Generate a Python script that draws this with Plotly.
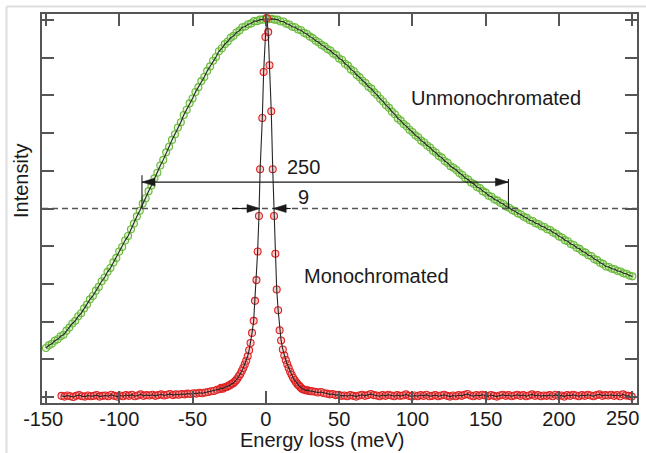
import numpy as np
import plotly.graph_objects as go

# ---- Unmonochromated spectrum (2 meV sampling) ----
green_energy = np.arange(-150.0, 251.0, 2.0)
green_intensity = [
    1.30, 1.37, 1.41, 1.49, 1.53, 1.61, 1.65, 1.76, 1.84, 1.95,
    2.02, 2.14, 2.22, 2.35, 2.45, 2.59, 2.68, 2.82, 2.92, 3.07,
    3.17, 3.32, 3.42, 3.57, 3.69, 3.86, 3.98, 4.15, 4.27, 4.45,
    4.60, 4.79, 4.94, 5.13, 5.27, 5.46, 5.61, 5.80, 5.95, 6.14,
    6.29, 6.49, 6.64, 6.82, 6.97, 7.15, 7.29, 7.48, 7.62, 7.79,
    7.92, 8.09, 8.22, 8.38, 8.49, 8.65, 8.77, 8.92, 9.02, 9.17,
    9.25, 9.36, 9.43, 9.53, 9.58, 9.67, 9.72, 9.81, 9.83, 9.89,
    9.91, 9.97, 9.97, 10.01, 10.01, 10.04, 10.02, 10.03, 10.01, 10.01,
    9.96, 9.96, 9.90, 9.88, 9.82, 9.81, 9.75, 9.73, 9.66, 9.63,
    9.56, 9.52, 9.45, 9.41, 9.34, 9.30, 9.23, 9.19, 9.11, 9.07,
    8.98, 8.94, 8.84, 8.79, 8.69, 8.64, 8.54, 8.48, 8.39, 8.33,
    8.23, 8.18, 8.08, 8.01, 7.91, 7.84, 7.74, 7.67, 7.57, 7.50,
    7.39, 7.33, 7.24, 7.18, 7.09, 7.03, 6.94, 6.89, 6.80, 6.75,
    6.67, 6.62, 6.53, 6.48, 6.39, 6.35, 6.26, 6.21, 6.12, 6.08,
    6.02, 5.94, 5.89, 5.81, 5.77, 5.69, 5.65, 5.57, 5.54, 5.46,
    5.42, 5.34, 5.31, 5.24, 5.21, 5.15, 5.12, 5.05, 5.02, 4.96,
    4.93, 4.87, 4.84, 4.78, 4.75, 4.69, 4.67, 4.61, 4.59, 4.53,
    4.51, 4.45, 4.43, 4.36, 4.33, 4.26, 4.23, 4.16, 4.13, 4.06,
    4.03, 3.96, 3.93, 3.86, 3.83, 3.76, 3.74, 3.66, 3.63, 3.56,
    3.53, 3.46, 3.45, 3.40, 3.39, 3.34, 3.33, 3.28, 3.27, 3.22,
    3.20,
]

# ---- Monochromated spectrum ----
red_left_energy = np.arange(-139.4, -32.0, 2.0)
red_left_intensity = [
    0.03, 0.01, 0.04, 0.02, 0.00, 0.03, 0.05, 0.02, 0.01, 0.04,
    0.02, 0.03, 0.05, 0.01, 0.03, 0.04, 0.02, 0.06, 0.03, 0.01,
    0.04, 0.02, 0.05, 0.03, 0.06, 0.02, 0.04, 0.07, 0.03, 0.05,
    0.04, 0.06, 0.03, 0.05, 0.07, 0.04, 0.06, 0.08, 0.05, 0.07,
    0.06, 0.08, 0.07, 0.09, 0.08, 0.10, 0.09, 0.11, 0.10, 0.12,
    0.13, 0.15, 0.16, 0.19,
]
red_core_energy = [
    -31.4, -30.4, -29.4, -28.4, -27.4, -26.4, -25.4, -24.4, -23.4, -22.4,
    -21.4, -20.4, -19.4, -18.4, -17.4, -16.4, -15.4, -14.4, -13.4, -12.4,
    -11.4, -10.4, -9.4, -8.3, -7.4, -6.4, -5.6, -4.7, -3.9, -2.4,
    -1.5, -0.3, 0.7, 1.6, 2.5, 3.7, 4.7, 5.6, 6.5, 7.4,
    8.4, 9.4, 10.4, 11.6, 12.6, 13.6, 14.6, 15.6, 16.6, 17.6,
    18.6, 19.6, 20.6, 21.6, 22.6, 23.6, 24.6, 25.6, 26.6, 27.6,
    28.6, 29.6, 30.6, 31.6,
]
red_core_intensity = [
    0.21, 0.24, 0.22, 0.25, 0.26, 0.27, 0.30, 0.31, 0.35, 0.36,
    0.40, 0.44, 0.49, 0.55, 0.61, 0.69, 0.77, 0.86, 0.96, 1.08,
    1.24, 1.43, 1.70, 2.02, 2.55, 3.10, 3.86, 4.80, 6.04, 7.40,
    8.62, 9.55, 10.05, 9.68, 8.80, 7.58, 6.04, 4.80, 3.80, 2.85,
    2.30, 1.77, 1.50, 1.26, 1.10, 0.98, 0.87, 0.77, 0.67, 0.59,
    0.51, 0.45, 0.39, 0.34, 0.30, 0.26, 0.22, 0.20, 0.19, 0.17,
    0.18, 0.16, 0.15, 0.15,
]
red_right_energy = np.arange(33.6, 250.0, 2.0)
red_right_intensity = [
    0.14, 0.12, 0.13, 0.10, 0.09, 0.07, 0.08, 0.05, 0.06, 0.03,
    0.04, 0.02, 0.05, 0.03, 0.01, 0.04, 0.06, 0.03, 0.05, 0.08,
    0.05, 0.04, 0.02, 0.05, 0.03, 0.06, 0.04, 0.02, 0.05, 0.03,
    0.04, 0.07, 0.03, 0.01, 0.04, 0.02, 0.05, 0.03, 0.06, 0.02,
    0.03, 0.05, 0.02, 0.04, 0.06, 0.03, 0.01, 0.04, 0.02, 0.05,
    0.03, 0.06, 0.08, 0.04, 0.02, 0.05, 0.03, 0.06, 0.04, 0.02,
    0.05, 0.03, 0.01, 0.04, 0.06, 0.03, 0.05, 0.02, 0.04, 0.06,
    0.03, 0.05, 0.02, 0.04, 0.07, 0.03, 0.05, 0.02, 0.04, 0.03,
    0.05, 0.02, 0.06, 0.03, 0.04, 0.01, 0.05, 0.03, 0.06, 0.04,
    0.02, 0.05, 0.03, 0.06, 0.04, 0.02, 0.05, 0.07, 0.03, 0.05,
    0.04, 0.06, 0.03, 0.05, 0.02, 0.07, 0.04, 0.03, 0.01,
]

red_energy = np.concatenate([red_left_energy, red_core_energy, red_right_energy])
red_intensity = np.concatenate([red_left_intensity, red_core_intensity, red_right_intensity])

# ---- Width annotations ----
half_max = 5.0
unmono_fwhm = 250
unmono_left = -84.5
unmono_right = unmono_left + unmono_fwhm
mono_fwhm = 9
mono_center = 0.5
mono_left = mono_center - mono_fwhm / 2
mono_right = mono_center + mono_fwhm / 2
arrow_level = 5.7

# the last label sits flush with the frame, so it is placed separately
x_ticks = [-150, -100, -50, 0, 50, 100, 150, 200, 250]
x_tick_labels = ["-150&nbsp;", "-100", "-50", "0", "50", "100", "150", "200", ""]
x_last_tick = 250
x_last_label = "250"

FONT = "Liberation Sans, Arial, sans-serif"
INK = "#1a1a1a"
AXIS = "#555555"

fig = go.Figure()

fig.add_trace(go.Scatter(
    x=green_energy, y=green_intensity, mode="markers",
    marker=dict(symbol="circle", size=7, color="rgba(160,215,120,0.3)",
                line=dict(color="#69b83a", width=1.1)),
    hoverinfo="skip", showlegend=False))
fig.add_trace(go.Scatter(
    x=green_energy, y=green_intensity, mode="lines",
    line=dict(color="#262626", width=1.1), showlegend=False))

fig.add_trace(go.Scatter(
    x=red_energy, y=red_intensity, mode="markers",
    marker=dict(symbol="circle", size=7, color="rgba(240,120,120,0.35)",
                line=dict(color="#dd2222", width=1.1)),
    hoverinfo="skip", showlegend=False))
fig.add_trace(go.Scatter(
    x=red_energy, y=red_intensity, mode="lines",
    line=dict(color="#262626", width=1.1), showlegend=False))

shapes = []
# half-maximum reference line
shapes.append(dict(type="line", xref="paper", x0=0, x1=1, yref="y", y0=half_max, y1=half_max,
                   line=dict(color="#555555", width=1.3, dash="6px,4px")))
# wide arrow (unmonochromated FWHM)
shapes.append(dict(type="line", xref="x", yref="y", x0=unmono_left, x1=unmono_right,
                   y0=arrow_level, y1=arrow_level, line=dict(color=INK, width=1.1)))
shapes.append(dict(type="line", xref="x", yref="y", x0=unmono_left, x1=unmono_left,
                   y0=half_max, y1=arrow_level + 0.18, line=dict(color=INK, width=1.1)))
shapes.append(dict(type="line", xref="x", yref="y", x0=unmono_right, x1=unmono_right,
                   y0=half_max, y1=arrow_level + 0.08, line=dict(color=INK, width=1.1)))


def head(x, y, direction):
    # direction -1: points left, +1: points right
    L, H = 13 * -direction, 4
    return dict(type="path", xref="x", yref="y", xsizemode="pixel", ysizemode="pixel",
                xanchor=x, yanchor=y, path=f"M0,0 L{L},{H} L{L},{-H} Z",
                fillcolor=INK, line=dict(color=INK, width=0.5))


shapes.append(head(unmono_left, arrow_level, -1))
shapes.append(head(unmono_right, arrow_level, +1))

# narrow arrows (monochromated FWHM)
shapes.append(dict(type="line", xref="x", yref="y", x0=mono_left - 19, x1=mono_left,
                   y0=half_max, y1=half_max, line=dict(color=INK, width=1.1)))
shapes.append(dict(type="line", xref="x", yref="y", x0=mono_right, x1=mono_right + 12,
                   y0=half_max, y1=half_max, line=dict(color=INK, width=1.1)))
shapes.append(head(mono_left, half_max, +1))
shapes.append(head(mono_right, half_max, -1))

# light page frame
shapes.append(dict(type="line", xref="paper", yref="paper", x0=-0.0597, x1=1.02,
                   y0=1.0193, y1=1.0193, line=dict(color="#dddddd", width=2)))
shapes.append(dict(type="line", xref="paper", yref="paper", x0=-0.0597, x1=-0.0597,
                   y0=1.0193, y1=-0.14, line=dict(color="#dddddd", width=2)))

annotations = [
    dict(text="Unmonochromated", x=156.8, y=7.92, xref="x", yref="y", showarrow=False,
         xanchor="center", yanchor="middle", font=dict(size=20, family=FONT, color=INK)),
    dict(text="Monochromated", x=75.5, y=3.21, xref="x", yref="y", showarrow=False,
         xanchor="center", yanchor="middle", font=dict(size=20, family=FONT, color=INK)),
    dict(text="250", x=25.6, y=6.11, xref="x", yref="y", showarrow=False,
         xanchor="center", yanchor="middle", font=dict(size=20, family=FONT, color=INK)),
    dict(text="9", x=25.5, y=5.31, xref="x", yref="y", showarrow=False,
         xanchor="center", yanchor="middle", font=dict(size=20, family=FONT, color=INK)),
    dict(text=x_last_label, x=x_last_tick, y=-0.0386, xref="x", yref="paper",
         xanchor="center", yanchor="middle", xshift=-10, showarrow=False,
         font=dict(size=20, family=FONT, color=INK)),
    dict(text="Energy loss (meV)", x=0.4714, y=-0.0951, xref="paper", yref="paper",
         xanchor="center", yanchor="middle",
         showarrow=False, font=dict(size=20, family=FONT, color=INK)),
    dict(text="Intensity", x=-0.0353, y=0.5707, xref="paper", yref="paper", textangle=-90,
         xanchor="center", yanchor="middle",
         showarrow=False, font=dict(size=20, family=FONT, color=INK)),
]

fig.update_layout(
    width=646, height=453,
    margin=dict(l=42, r=9, t=14, b=50, autoexpand=False),
    paper_bgcolor="white", plot_bgcolor="white",
    shapes=shapes, annotations=annotations,
    showlegend=False,
    xaxis=dict(range=[-152.7, 253.2], tickvals=x_ticks, ticktext=x_tick_labels,
               ticks="inside", ticklen=12, tickwidth=1.5, tickcolor=AXIS,
               showline=True, linecolor=AXIS, linewidth=1.5, mirror="allticks",
               showgrid=False, zeroline=False, ticklabeloverflow="allow",
               ticklabelstandoff=-3, automargin=False,
               tickfont=dict(size=20, family=FONT, color=INK)),
    yaxis=dict(range=[-0.16, 10.16], dtick=1, tick0=0,
               ticks="inside", ticklen=12, tickwidth=1.5, tickcolor=AXIS,
               showline=True, linecolor=AXIS, linewidth=1.5, mirror="allticks",
               showgrid=False, zeroline=False, showticklabels=False, automargin=False),
)

fig.write_html("out.html")
